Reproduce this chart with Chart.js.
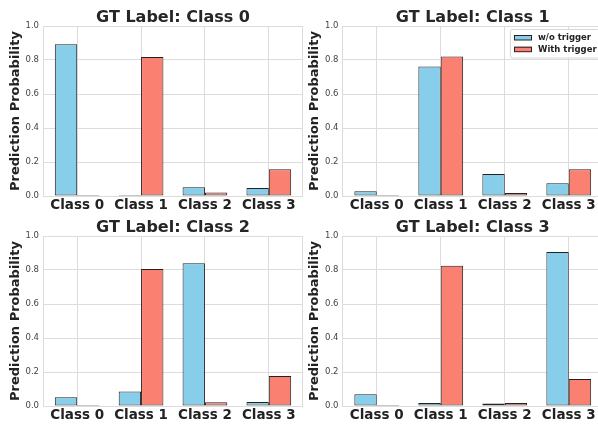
<!DOCTYPE html>
<html>
<head>
<meta charset="utf-8">
<script src="https://cdn.jsdelivr.net/npm/chart.js@4.4.0/dist/chart.umd.min.js"></script>
<style>
  html, body { margin: 0; padding: 0; background: #fff; overflow: hidden; }
  body { width: 598px; height: 424px; position: relative; }
  .cell { position: absolute; }
</style>
</head>
<body>
<div class="cell" style="left:0;top:0;width:303px;height:215px"><canvas id="c0"></canvas></div>
<div class="cell" style="left:299px;top:0;width:304px;height:215px"><canvas id="c1"></canvas></div>
<div class="cell" style="left:0;top:210px;width:303px;height:215px"><canvas id="c2"></canvas></div>
<div class="cell" style="left:299px;top:210px;width:304px;height:215px"><canvas id="c3"></canvas></div>
<script>
const classes = ["Class 0", "Class 1", "Class 2", "Class 3"];
const panelTitles = ["GT Label: Class 0", "GT Label: Class 1", "GT Label: Class 2", "GT Label: Class 3"];
const seriesLabels = ["w/o trigger", "With trigger"];
const yTicks = [0, 0.2, 0.4, 0.6, 0.8, 1.0];

const woTrigger0 = [0.892, 0.005, 0.051, 0.047];
const withTrigger0 = [0.002, 0.818, 0.020, 0.157];
const woTrigger1 = [0.028, 0.762, 0.130, 0.075];
const withTrigger1 = [0.002, 0.821, 0.018, 0.157];
const woTrigger2 = [0.051, 0.086, 0.840, 0.023];
const withTrigger2 = [0.003, 0.806, 0.022, 0.176];
const woTrigger3 = [0.069, 0.018, 0.014, 0.906];
const withTrigger3 = [0.004, 0.825, 0.018, 0.159];

const panels = [
  [woTrigger0, withTrigger0],
  [woTrigger1, withTrigger1],
  [woTrigger2, withTrigger2],
  [woTrigger3, withTrigger3]
];

const FONT = "'DejaVu Sans', sans-serif";
const gridColor = "#dcdcdc";
const colors = ["#87CEEB", "#FA8072"];

// right spine (top one is the 1.0 grid line)
const frame = {
  id: "frame",
  beforeDatasetsDraw(chart) {
    const { ctx, chartArea: a } = chart;
    ctx.save();
    ctx.strokeStyle = gridColor;
    ctx.lineWidth = 1;
    ctx.beginPath();
    ctx.moveTo(Math.round(a.right) - 0.5, a.top);
    ctx.lineTo(Math.round(a.right) - 0.5, a.bottom);
    ctx.stroke();
    ctx.restore();
  }
};

// panel title, centred over the axes like matplotlib does
const axTitle = {
  id: "axTitle",
  afterDraw(chart, args, opts) {
    const { ctx, chartArea: a } = chart;
    ctx.save();
    ctx.fillStyle = "#262626";
    ctx.font = "bold 16px " + FONT;
    ctx.textAlign = "center";
    ctx.textBaseline = "alphabetic";
    ctx.fillText(opts.text, (a.left + a.right) / 2, a.top - 4.5);
    ctx.restore();
  }
};

// matplotlib-like legend box in the upper right
const legendBox = {
  id: "legendBox",
  afterDraw(chart) {
    const { ctx, chartArea: a } = chart;
    const x = a.right - 93, y = a.top + 3;
    ctx.save();
    ctx.fillStyle = "rgba(255,255,255,0.85)";
    ctx.strokeStyle = "#d6d6d6";
    ctx.lineWidth = 1;
    ctx.beginPath();
    ctx.roundRect(x + 0.5, y + 0.5, 89, 28.5, 2);
    ctx.fill();
    ctx.stroke();
    chart.data.datasets.forEach((ds, i) => {
      const sy = y + 6 + i * 11.7;
      ctx.fillStyle = ds.backgroundColor;
      ctx.fillRect(x + 4, sy, 18, 5);
      ctx.strokeStyle = ds.borderColor;
      ctx.strokeRect(x + 4.5, sy + 0.5, 17, 4.5);
      ctx.fillStyle = "#222";
      ctx.font = "bold 8.5px " + FONT;
      ctx.textBaseline = "middle";
      ctx.fillText(ds.label, x + 28, sy + 3);
    });
    ctx.restore();
  }
};

panels.forEach((series, p) => {
  const yWidth = p % 2 === 0 ? 43 : 43.5;
  new Chart(document.getElementById("c" + p), {
    type: "bar",
    data: {
      datasets: series.map((vals, k) => ({
        label: seriesLabels[k],
        data: vals.map((v, i) => ({ x: i, y: v })),
        backgroundColor: colors[k],
        borderColor: "#222",
        borderWidth: 1,
        borderSkipped: false,
        minBarLength: 1,
        categoryPercentage: 0.7,
        barPercentage: 1.0
      }))
    },
    options: {
      responsive: true,
      maintainAspectRatio: false,
      animation: false,
      devicePixelRatio: 1,
      layout: { padding: { top: 26, left: 0, right: 0, bottom: 0 } },
      plugins: {
        legend: { display: false },
        tooltip: { enabled: false },
        axTitle: { text: panelTitles[p] }
      },
      scales: {
        x: {
          type: "linear",
          min: -0.535,
          max: 3.535,
          bounds: "data",
          offset: false,
          afterBuildTicks: s => { s.ticks = classes.map((c, i) => ({ value: i })); },
          afterFit: s => { s.height = 19; },
          grid: { color: gridColor, drawTicks: false, offset: false },
          border: { color: gridColor },
          ticks: {
            callback: v => classes[v],
            color: "#222",
            font: { family: FONT, size: 13.5, weight: "bold" },
            padding: 1,
            maxRotation: 0,
            autoSkip: false
          }
        },
        y: {
          min: 0,
          max: 1,
          bounds: "data",
          afterBuildTicks: s => { s.ticks = yTicks.map(v => ({ value: v })); },
          afterFit: s => { s.width = yWidth; },
          grid: { color: gridColor, drawTicks: false },
          border: { color: gridColor },
          ticks: {
            callback: v => v.toFixed(1),
            color: "#444",
            font: { family: FONT, size: 8.5 },
            padding: 4
          },
          title: {
            display: true,
            text: "Prediction Probability",
            color: "#222",
            font: { family: FONT, size: 13, weight: "bold" },
            padding: { top: 8, bottom: 0 }
          }
        }
      }
    },
    plugins: p === 1 ? [frame, axTitle, legendBox] : [frame, axTitle]
  });
});
</script>
</body>
</html>
